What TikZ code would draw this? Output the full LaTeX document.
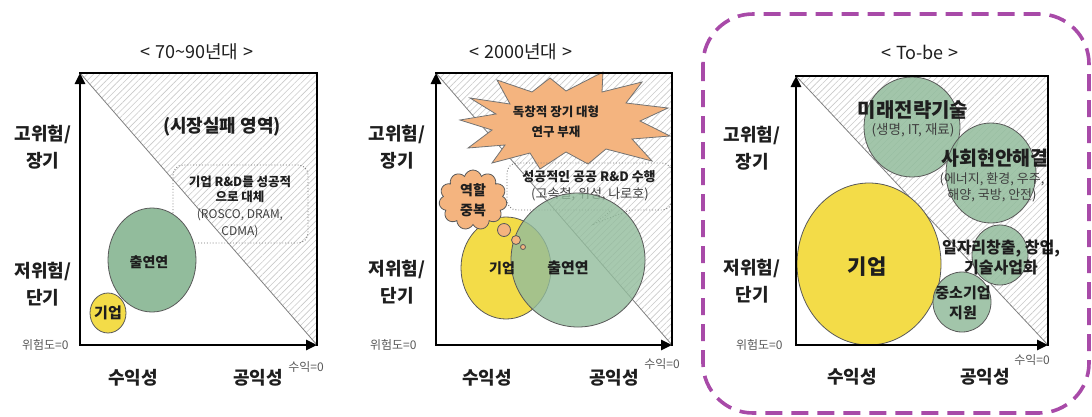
\documentclass[tikz,border=0pt]{standalone}
\usepackage{fontspec}
\setmainfont{Noto Sans CJK KR}
\usetikzlibrary{arrows.meta,patterns.meta,shapes.symbols}
\definecolor{grn}{HTML}{92BC9C}
\definecolor{ylw}{HTML}{F3DC48}
\definecolor{org}{HTML}{F4B47F}
\definecolor{mag}{HTML}{A84AA8}
\definecolor{hatchc}{HTML}{CACACA}
\definecolor{txt}{HTML}{1E1E1E}
\tikzset{
  hatchfill/.style={pattern={Lines[angle=45,distance=4.5pt,line width=0.6pt]}, pattern color=hatchc},
  frameline/.style={line width=2.6pt, line cap=rect},
  axisarrow/.style={line width=2.6pt, line cap=rect, -{Triangle[length=11pt,width=10pt]}},
  diagline/.style={draw=black!50, line width=0.8pt},
  titletext/.style={font=\fontsize{18}{21}\selectfont, text=txt},
  ylabtext/.style={font=\bfseries\fontsize{18}{27}\selectfont, align=center, text=txt},
  xlabtext/.style={font=\bfseries\fontsize{18}{21}\selectfont, text=txt},
  smalltext/.style={font=\fontsize{12}{14}\selectfont, text=black!65},
  greenbub/.style={draw=black!65, line width=0.8pt, fill=grn},
  yellowbub/.style={draw=black!65, line width=0.8pt, fill=ylw},
  orangebub/.style={draw=black!65, line width=0.8pt, fill=org},
  calloutline/.style={draw=black!55, line width=0.9pt, dotted},
  bubtext/.style={font=\bfseries\fontsize{14}{20}\selectfont, align=center, text=txt},
}
\newcommand{\myframe}[5]{%
  \coordinate (#1tl) at (#2,#3);
  \coordinate (#1tr) at (#4,#3);
  \coordinate (#1br) at (#4,#5);
  \coordinate (#1bl) at (#2,#5);
  \fill[hatchfill] (#1tl) -- (#1tr) -- (#1br) -- cycle;
  \draw[diagline] (#1tl) -- (#1br);
}
\newcommand{\myaxes}[1]{%
  \draw[frameline] (#1tl) -- (#1tr) -- (#1br);
  \draw[axisarrow] (#1bl) -- (#1tl);
  \draw[axisarrow] (#1bl) -- (#1br);
}
\newcommand{\tsp}{\hspace{5pt}}
\begin{document}
\begin{tikzpicture}[x=1pt,y=-1pt]
\useasboundingbox (0,0) rectangle (1092,416);
\fill[white] (0,0) rectangle (1092,416);

% ================= Panel 1 =================
\myframe{pa}{80}{73}{317}{345}
\node[titletext] (pat) at (197,52) {<\tsp 70\textasciitilde 90년대\tsp >};
\node[ylabtext] (pay1) at (43,147) {고위험/\\장기};
\node[ylabtext] (pay2) at (43,284) {저위험/\\단기};
\node[smalltext, anchor=east] (par) at (72,345) {위험도=0};
\node[xlabtext] (pax1) at (133,378) {수익성};
\node[xlabtext] (pax2) at (258,378) {공익성};
\node[smalltext] (pas) at (306,367) {수익=0};
\node[font=\bfseries\fontsize{18}{21}\selectfont, text=txt] (paf) at (222,127) {(시장실패 영역)};
\draw[calloutline, rounded corners=10pt] (173,213) -- (173,165) -- (308,165) -- (308,243) -- (173,243) [sharp corners] -- (173,233) -- (152,238) -- cycle;
\node[font=\bfseries\fontsize{12.5}{15}\selectfont, align=center, text=txt] (pac1) at (240,189.5) {기업 R\&D를 성공적\\으로 대체};
\node[font=\fontsize{12}{17}\selectfont, align=center, text=black!75] (pac2) at (240,223.5) {(ROSCO, DRAM,\\CDMA)};
\path[greenbub] (152,260) ellipse [x radius=44pt, y radius=52pt];
\node[bubtext] (pag) at (149,262) {출연연};
\path[yellowbub] (108,313) ellipse [x radius=18pt, y radius=20pt];
\node[bubtext, font=\bfseries\fontsize{15}{18}\selectfont] (pay) at (108,313) {기업};
\myaxes{pa}

% ================= Panel 2 =================
\myframe{pb}{436}{73}{672}{345}
\node[titletext] (pbt) at (521,52) {<\tsp 2000년대\tsp >};
\node[ylabtext] (pby1) at (397,147) {고위험/\\장기};
\node[ylabtext] (pby2) at (397,282) {저위험/\\단기};
\node[smalltext, anchor=east] (pbr) at (420,345) {위험도=0};
\node[xlabtext] (pbx1) at (487,378) {수익성};
\node[xlabtext] (pbx2) at (614,378) {공익성};
\node[smalltext] (pbs) at (662,364) {수익=0};
% starburst
\draw[draw=black!55, line width=0.8pt, fill=org]
  (470,98) -- (510,104) -- (497,80) -- (532,92) -- (550,78) -- (566,91) -- (603,72) -- (602,92)
  -- (642,82) -- (626,103) -- (668,108) -- (640,121) -- (670,136) -- (632,139) -- (652,161)
  -- (606,149) -- (588,164) -- (566,152) -- (540,169) -- (530,153) -- (492,163) -- (505,145)
  -- (468,148) -- (492,130) -- (460,120) -- (496,114) -- cycle;
\node[font=\bfseries\fontsize{12.5}{20}\selectfont, align=center, text=txt] (pbst) at (556,122) {독창적 장기 대형\\연구 부재};
% callout
\draw[calloutline, rounded corners=10pt] (612,210) -- (507,210) -- (507,163) -- (672,163) -- (672,210) [sharp corners] -- (630,210) -- (594,224) -- cycle;
\node[font=\bfseries\fontsize{13}{16}\selectfont, text=txt] (pbc1) at (589,177) {성공적인 공공 R\&D 수행};
\node[font=\fontsize{13}{16}\selectfont, text=black!75] (pbc2) at (590,194) {(고속철, 위성, 나로호)};
% ellipses
\path[yellowbub] (506,268) ellipse [x radius=45pt, y radius=51pt];
\path[greenbub, fill opacity=0.8] (578,260) ellipse [x radius=67pt, y radius=67pt];
\node[bubtext] (pby) at (502,268) {기업};
\node[bubtext, font=\bfseries\fontsize{15}{18}\selectfont] (pbg) at (568,268) {출연연};
% cloud
\node[cloud, cloud puffs=11, cloud ignores aspect, minimum width=68pt, minimum height=60pt, inner sep=0pt, orangebub, bubtext] (pbcl) at (473,200) {역할\\중복};
\path[orangebub] (504,230) circle [radius=6.5pt];
\path[orangebub] (516,240) circle [radius=4.5pt];
\path[orangebub] (523,247) circle [radius=2.5pt];
\myaxes{pb}

% ================= Panel 3 =================
\draw[draw=mag, line width=3.6pt, dash pattern=on 17pt off 9pt, rounded corners=50pt] (703,14) rectangle (1089,413);
\myframe{pc}{796}{76}{1048}{345}
\node[titletext] (pct) at (920,52) {<\tsp To-be\tsp >};
\node[ylabtext] (pcy1) at (752,148) {고위험/\\장기};
\node[ylabtext] (pcy2) at (752,281) {저위험/\\단기};
\node[smalltext, anchor=east] (pcr) at (786,345) {위험도=0};
\node[xlabtext] (pcx1) at (852,377) {수익성};
\node[xlabtext] (pcx2) at (985,377) {공익성};
\node[smalltext] (pcs) at (1032,360) {수익=0};
\path[yellowbub] (869,264) ellipse [x radius=72pt, y radius=81pt];
\path[greenbub, fill opacity=0.85] (912,127) ellipse [x radius=48pt, y radius=50pt];
\path[greenbub, fill opacity=0.85] (991,173) ellipse [x radius=45pt, y radius=50pt];
\path[greenbub, fill opacity=0.85] (1000,255) ellipse [x radius=28pt, y radius=30pt];
\path[greenbub, fill opacity=0.85] (962,302) ellipse [x radius=29pt, y radius=30pt];
\node[font=\bfseries\fontsize{21}{24}\selectfont, text=txt] (pcy) at (867,267) {기업};
\node[font=\bfseries\fontsize{20}{24}\selectfont, text=txt] (pca1) at (913,110) {미래전략기술};
\node[font=\fontsize{13.5}{16}\selectfont, text=black!75] (pca2) at (913,130) {(생명, IT, 재료)};
\node[font=\bfseries\fontsize{19.5}{24}\selectfont, text=txt] (pcb1) at (995,158) {사회현안해결};
\node[font=\fontsize{13}{16}\selectfont, align=center, text=black!75] (pcb2) at (992,187) {(에너지, 환경, 우주,\\해양, 국방, 안전)};
\node[font=\bfseries\fontsize{16}{20}\selectfont, align=center, text=txt] (pcc) at (1001,257) {일자리창출, 창업,\\기술사업화};
\node[font=\bfseries\fontsize{15}{20}\selectfont, align=center, text=txt] (pcd) at (963,303) {중소기업\\지원};
\myaxes{pc}
\end{tikzpicture}
\end{document}
